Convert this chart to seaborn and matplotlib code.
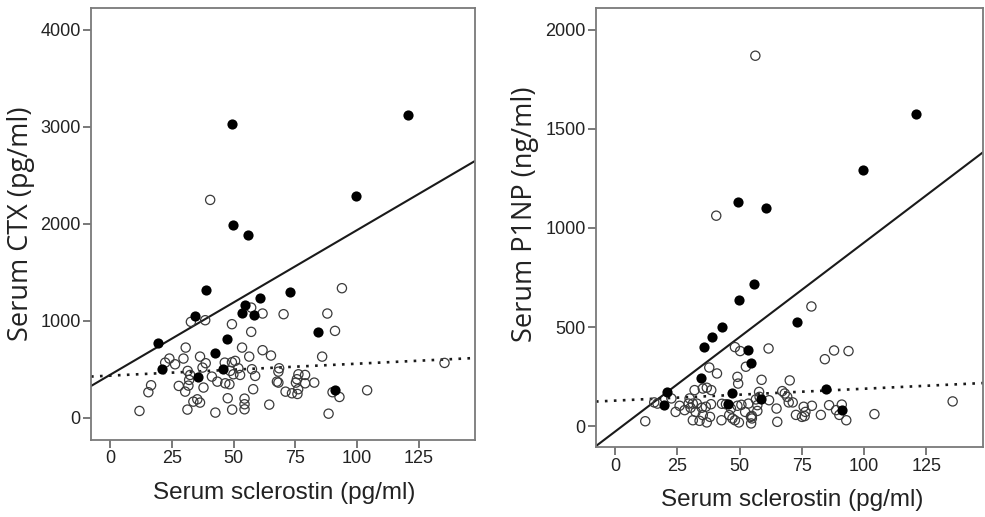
import numpy as np
import matplotlib
matplotlib.use("Agg")
import matplotlib.pyplot as plt
import seaborn as sns

# ---- left panel: serum CTX vs sclerostin ----
ctx_filled_x = [49.3, 120.5, 99.5, 49.8, 55.9, 38.7, 72.9, 60.7, 54.4, 34.4,
                53.2, 58.4, 19.6, 84.3, 47.2, 42.6, 20.9, 45.6, 35.4, 90.8]
ctx_filled_y = [3028, 3117, 2285, 1986, 1887, 1323, 1299, 1234, 1165, 1055,
                1086, 1062, 770, 883, 814, 673, 505, 505, 426, 292]

ctx_open_x = [40.5, 93.8, 87.9, 91.0, 70.2, 61.7, 57.1, 57.1, 49.3, 38.5,
              32.7, 30.6, 53.4, 61.7, 65.1, 56.3, 85.8, 135.3, 24.0, 22.3,
              26.3, 29.7, 36.4, 38.7, 37.4, 46.4, 49.3, 50.6, 51.9, 48.6,
              49.9, 52.6, 57.4, 58.7, 68.4, 68.1, 67.5, 68.1, 76.2, 78.9,
              75.6, 75.2, 82.6, 78.9, 41.2, 43.4, 46.6, 48.3, 37.8, 31.4,
              32.4, 32.0, 31.7, 30.4, 27.8, 16.6, 15.5, 57.9, 71.0, 73.6,
              75.8, 76.1, 90.0, 92.8, 104.0, 11.9, 31.3, 42.6, 49.4, 54.4,
              54.4, 54.4, 47.6, 64.4, 88.4, 33.7, 35.3, 36.4]
ctx_open_y = [2247, 1337, 1076, 897, 1069, 1076, 1137, 887, 966, 1007,
              990, 725, 725, 698, 643, 632, 632, 567, 612, 570,
              553, 612, 632, 564, 519, 570, 574, 588, 512, 485,
              450, 443, 502, 433, 512, 477, 374, 364, 450, 443,
              399, 364, 364, 357, 426, 374, 357, 347, 313, 485,
              443, 392, 333, 271, 330, 337, 265, 296, 271, 254,
              247, 296, 265, 216, 285, 72, 86, 55, 86, 199,
              141, 89, 203, 137, 44, 168, 192, 158]

# fitted lines: (intercept, slope)
ctx_fit_filled = (444, 14.93)
ctx_fit_open = (436, 1.23)

# ---- right panel: serum P1NP vs sclerostin ----
p1np_filled_x = [120.6, 99.5, 49.3, 60.7, 55.9, 49.8, 42.8, 38.9, 35.6, 72.9,
                 53.3, 54.6, 34.5, 20.8, 19.5, 47.1, 45.5, 58.6, 84.6, 91.0]
p1np_filled_y = [1576, 1293, 1131, 1099, 715, 635, 502, 448, 401, 527,
                 386, 318, 244, 173, 109, 165, 113, 138, 187, 81]

p1np_open_x = [56.3, 40.6, 78.8, 48.1, 50.2, 61.6, 84.2, 87.9, 93.7, 52.5,
               37.8, 40.9, 49.1, 49.4, 58.8, 70.1, 31.9, 35.2, 36.8, 38.6,
               57.8, 67.1, 68.1, 69.1, 69.7, 71.3, 61.8, 58.0, 56.5, 22.6,
               15.7, 17.0, 29.9, 29.5, 31.2, 32.8, 25.9, 24.3, 27.9, 30.3,
               32.3, 34.8, 36.4, 38.5, 42.9, 44.5, 46.5, 49.1, 50.7, 53.5,
               57.1, 52.2, 54.9, 57.1, 64.8, 65.1, 72.6, 75.7, 76.4, 79.0,
               75.0, 76.1, 82.6, 85.9, 88.7, 91.0, 90.0, 92.8, 104.1, 135.5,
               12.1, 31.2, 33.9, 36.8, 35.2, 38.1, 42.7, 45.8, 47.1, 48.1,
               49.7, 54.5, 54.6, 54.9]
p1np_open_y = [1869, 1062, 604, 399, 379, 392, 338, 382, 379, 300,
               296, 266, 249, 215, 234, 231, 182, 190, 194, 182,
               173, 177, 165, 148, 120, 120, 131, 148, 135, 140,
               120, 114, 140, 114, 114, 114, 103, 72, 81, 93,
               72, 93, 98, 111, 113, 111, 89, 103, 108, 114,
               106, 72, 52, 77, 89, 22, 57, 98, 72, 103,
               47, 51, 57, 106, 81, 109, 57, 30, 61, 125,
               25, 30, 27, 19, 56, 47, 30, 56, 39, 30,
               19, 47, 14, 39]

p1np_fit_filled = (-27, 9.54)
p1np_fit_open = (129, 0.60)

x_ticks = [0, 25, 50, 75, 100, 125]
ctx_ticks = [0, 1000, 2000, 3000, 4000]
p1np_ticks = [0, 500, 1000, 1500, 2000]

sns.set_theme(style="ticks")
plt.rcParams["font.family"] = ["Liberation Sans", "DejaVu Sans"]

fig = plt.figure(figsize=(9.85, 5.17), dpi=100)
ax_l = fig.add_axes([0.0924, 0.149, 0.390, 0.836])
ax_r = fig.add_axes([0.605, 0.135, 0.393, 0.850])

panels = [
    (ax_l, ctx_filled_x, ctx_filled_y, ctx_open_x, ctx_open_y,
     ctx_fit_filled, ctx_fit_open, (-227, 4227), ctx_ticks,
     "Serum CTX (pg/ml)", (-0.182, 0.50), (0.504, -0.123)),
    (ax_r, p1np_filled_x, p1np_filled_y, p1np_open_x, p1np_open_y,
     p1np_fit_filled, p1np_fit_open, (-106, 2111), p1np_ticks,
     "Serum P1NP (ng/ml)", (-0.183, 0.53), (0.506, -0.121)),
]

xlim = (-7.7, 147.7)
for (ax, fx, fy, ox, oy, fit_f, fit_o, ylim, yticks, ylabel,
     ylab_pos, xlab_pos) in panels:
    xs = np.array(xlim)
    ax.plot(xs, fit_f[0] + fit_f[1] * xs, color="#1a1a1a", lw=1.5, zorder=2)
    ax.plot(xs, fit_o[0] + fit_o[1] * xs, color="#1a1a1a", lw=1.9,
            dashes=(1, 2.4), zorder=2)
    sns.scatterplot(x=ox, y=oy, ax=ax, s=44, facecolor="none",
                    edgecolor="#3a3a3a", linewidth=0.9, zorder=3)
    sns.scatterplot(x=fx, y=fy, ax=ax, s=54, color="black",
                    edgecolor="black", linewidth=0, zorder=4)
    ax.set_xlim(xlim)
    ax.set_ylim(ylim)
    ax.set_xticks(x_ticks)
    ax.set_yticks(yticks)
    for sp in ax.spines.values():
        sp.set_visible(True)
        sp.set_color("#7a7a7a")
        sp.set_linewidth(1.3)
    ax.tick_params(axis="both", length=6, width=1.1, color="#555555",
                   labelsize=13, labelcolor="#222222", pad=1.5)
    ax.set_xlabel("Serum sclerostin (pg/ml)", fontsize=17.5, color="#222222",
                  va="center", ha="center")
    ax.set_ylabel(ylabel, fontsize=19.5, color="#222222",
                  va="center", ha="center",
                  family=["Open Sans", "DejaVu Sans"])
    ax.yaxis.set_label_coords(*ylab_pos)
    ax.xaxis.set_label_coords(*xlab_pos)

fig.savefig("out.png", dpi=100)
